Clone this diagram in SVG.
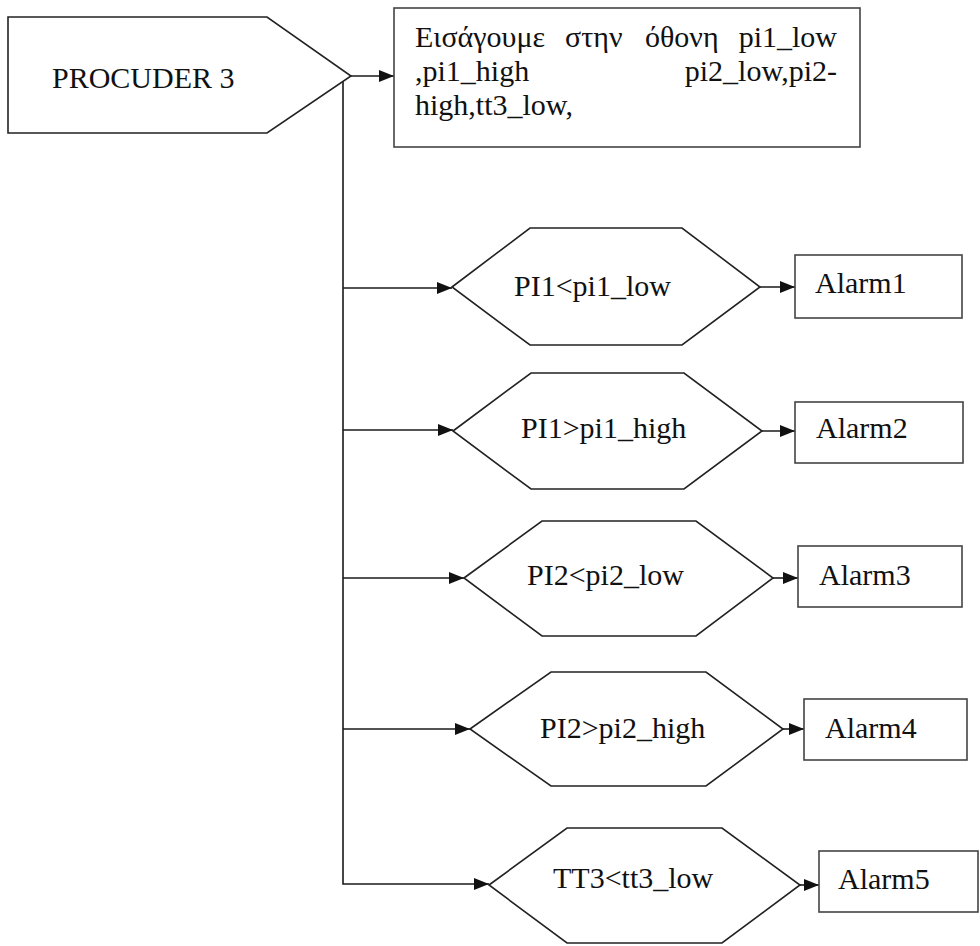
<svg xmlns="http://www.w3.org/2000/svg" width="980" height="946" viewBox="0 0 980 946">
  <defs>
    <marker id="arrow" markerUnits="userSpaceOnUse" markerWidth="15" markerHeight="12" refX="15" refY="6" orient="auto">
      <path d="M0,0 L15,6 L0,12 z" fill="#111"/>
    </marker>
  </defs>
  <style>
    .shape { fill: #fff; stroke: #222; stroke-width: 1.6; }
    .box { fill: #fff; stroke: #444; stroke-width: 1.6; }
    .wire { fill: none; stroke: #1a1a1a; stroke-width: 1.6; }
    .lbl { font-family: "Liberation Serif", "Times New Roman", serif; font-size: 30px; fill: #111; }
  </style>
  <rect width="980" height="946" fill="#fff"/>

  <!-- connectors -->
  <g id="connectors">
    <line class="wire" x1="351" y1="76" x2="394" y2="76" marker-end="url(#arrow)"/>
    <polyline class="wire" points="343,79 343,884 489,884" marker-end="url(#arrow)"/>
    <line class="wire" x1="343" y1="288" x2="452" y2="288" marker-end="url(#arrow)"/>
    <line class="wire" x1="343" y1="430" x2="453" y2="430" marker-end="url(#arrow)"/>
    <line class="wire" x1="343" y1="578" x2="464" y2="578" marker-end="url(#arrow)"/>
    <line class="wire" x1="343" y1="729" x2="470" y2="729" marker-end="url(#arrow)"/>
    <line class="wire" x1="760" y1="287" x2="795" y2="287" marker-end="url(#arrow)"/>
    <line class="wire" x1="762" y1="431" x2="795" y2="431" marker-end="url(#arrow)"/>
    <line class="wire" x1="773" y1="578" x2="798" y2="578" marker-end="url(#arrow)"/>
    <line class="wire" x1="783" y1="729" x2="804" y2="729" marker-end="url(#arrow)"/>
    <line class="wire" x1="800" y1="885" x2="819" y2="885" marker-end="url(#arrow)"/>
  </g>

  <!-- start block -->
  <g id="procuder3">
    <polygon class="shape" points="8,17 267,17 351,76 267,133 8,133"/>
    <text class="lbl" x="52" y="88">PROCUDER 3</text>
  </g>

  <!-- input screen -->
  <g id="input-screen">
    <rect class="box" x="394" y="8" width="466" height="139"/>
    <text class="lbl" y="47"><tspan x="415">Εισάγουμε</tspan><tspan x="565">στην</tspan><tspan x="645">όθονη</tspan><tspan x="837" text-anchor="end">pi1_low</tspan></text>
    <text class="lbl" y="81"><tspan x="415">,pi1_high</tspan><tspan x="837" text-anchor="end">pi2_low,pi2-</tspan></text>
    <text class="lbl" x="415" y="115">high,tt3_low,</text>
  </g>

  <!-- checks -->
  <g id="check1">
    <polygon class="shape" points="452,287 530,228 682,228 760,287 682,345 530,345"/>
    <text class="lbl" x="514" y="296">PI1&lt;pi1_low</text>
  </g>
  <g id="check2">
    <polygon class="shape" points="453,431 531,373 684,373 762,431 684,489 531,489"/>
    <text class="lbl" x="521" y="438">PI1&gt;pi1_high</text>
  </g>
  <g id="check3">
    <polygon class="shape" points="464,578 542,521 696,521 773,578 696,636 542,636"/>
    <text class="lbl" x="527" y="585">PI2&lt;pi2_low</text>
  </g>
  <g id="check4">
    <polygon class="shape" points="470,729 551,672 706,672 783,729 706,786 551,786"/>
    <text class="lbl" x="540" y="738">PI2&gt;pi2_high</text>
  </g>
  <g id="check5">
    <polygon class="shape" points="489,885 567,828 722,828 800,885 722,943 567,943"/>
    <text class="lbl" x="553" y="888">TT3&lt;tt3_low</text>
  </g>

  <!-- alarms -->
  <g id="alarm1">
    <rect class="box" x="795" y="255" width="167" height="63"/>
    <text class="lbl" x="815" y="293">Alarm1</text>
  </g>
  <g id="alarm2">
    <rect class="box" x="795" y="402" width="168" height="61"/>
    <text class="lbl" x="816" y="438">Alarm2</text>
  </g>
  <g id="alarm3">
    <rect class="box" x="798" y="546" width="164" height="61"/>
    <text class="lbl" x="819" y="585">Alarm3</text>
  </g>
  <g id="alarm4">
    <rect class="box" x="804" y="699" width="163" height="61"/>
    <text class="lbl" x="825" y="738">Alarm4</text>
  </g>
  <g id="alarm5">
    <rect class="box" x="819" y="851" width="159" height="61"/>
    <text class="lbl" x="838" y="889">Alarm5</text>
  </g>
</svg>
